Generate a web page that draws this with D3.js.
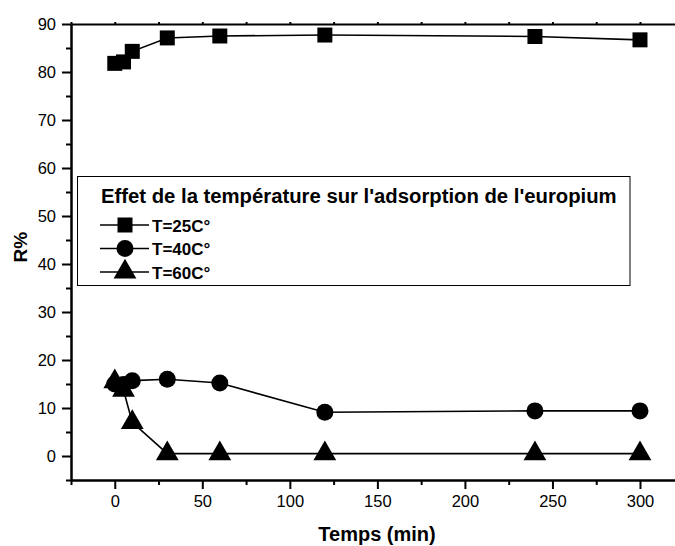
<!DOCTYPE html>
<html>
<head>
<meta charset="utf-8">
<script src="https://cdn.jsdelivr.net/npm/d3@7/dist/d3.min.js"></script>
<style>
  html, body { margin: 0; padding: 0; background: #fff; }
  svg { display: block; }
  text { font-family: "Liberation Sans", Arial, sans-serif; fill: #000; }
</style>
</head>
<body>
<svg id="chart" width="675" height="546"></svg>
<script>
// Adsorption yield R% over contact time, at three temperatures
const times = [0, 5, 10, 30, 60, 120, 240, 300];
const r25 = [81.8, 82.1, 84.3, 87.1, 87.5, 87.7, 87.4, 86.7];
const r40 = [15.0, 14.9, 15.7, 16.0, 15.2, 9.1, 9.4, 9.4];
const r60 = [15.5, 13.7, 7.0, 0.5, 0.5, 0.5, 0.5, 0.5];
const seriesNames = ["T=25C°", "T=40C°", "T=60C°"];
const legendTitle = "Effet de la température sur l'adsorption de l'europium";
const xTicks = [0, 50, 100, 150, 200, 250, 300];
const yTicks = [0, 10, 20, 30, 40, 50, 60, 70, 80, 90];
const xLabel = "Temps (min)";
const yLabel = "R%";

const svg = d3.select("#chart");
const plotL = 71, plotR = 675, plotT = 24, plotB = 480;

const x = d3.scaleLinear().domain([-25, 320]).range([plotL, plotR]);
const y = d3.scaleLinear().domain([-5, 90]).range([plotB, plotT]);

// Axes
const xMinor = d3.range(-25, 321, 25).filter(v => v % 50 !== 0);
const yMinor = d3.range(-5, 91, 10);

const gx = svg.append("g").attr("transform", `translate(0,${plotB})`);
gx.call(d3.axisBottom(x).tickValues(xTicks).tickSize(9).tickPadding(6).tickSizeOuter(0));
gx.append("g").call(d3.axisBottom(x).tickValues(xMinor).tickSize(5).tickFormat("").tickSizeOuter(0));

const gy = svg.append("g").attr("transform", `translate(${plotL},0)`);
gy.call(d3.axisLeft(y).tickValues(yTicks).tickSize(9).tickPadding(6).tickSizeOuter(0));
gy.append("g").call(d3.axisLeft(y).tickValues(yMinor).tickSize(5).tickFormat("").tickSizeOuter(0));

// Top frame line with small ticks
const gt = svg.append("g").attr("transform", `translate(0,${plotT})`);
gt.call(d3.axisTop(x).tickValues(d3.range(-25, 321, 25)).tickSize(2).tickFormat("").tickSizeOuter(0));

svg.selectAll(".domain").attr("stroke", "#000").attr("stroke-width", 2);
svg.selectAll(".tick line").attr("stroke", "#000").attr("stroke-width", 2);
svg.selectAll(".tick text").style("font-size", "16.5px").style("font-family", "'Liberation Sans', Arial, sans-serif").attr("fill", "#000");

// Axis titles
svg.append("text").attr("x", 377).attr("y", 541)
  .attr("text-anchor", "middle").style("font-size", "20px").style("font-weight", "bold")
  .text(xLabel);
svg.append("text").attr("transform", `translate(27,${y(43.5)}) rotate(-90)`)
  .attr("text-anchor", "middle").style("font-size", "19px").style("font-weight", "bold")
  .text(yLabel);

// Series
const series = [
  { vals: r25, sym: d3.symbolSquare, size: 225 },
  { vals: r40, sym: d3.symbolCircle, size: 227 },
  { vals: r60, sym: d3.symbolTriangle, size: 225 }
];
const line = d3.line().x(d => x(d[0])).y(d => y(d[1]));

series.forEach(s => {
  const pts = times.map((t, i) => [t, s.vals[i]]);
  svg.append("path").datum(pts).attr("d", line)
    .attr("fill", "none").attr("stroke", "#000").attr("stroke-width", 1.6);
  svg.append("g").selectAll("path").data(pts).join("path")
    .attr("transform", d => `translate(${x(d[0])},${y(d[1])})`)
    .attr("d", d3.symbol().type(s.sym).size(s.size)())
    .attr("fill", "#000");
});

// Legend
const lg = svg.append("g");
lg.append("rect").attr("x", 77.5).attr("y", 176.5).attr("width", 552.5).attr("height", 109)
  .attr("fill", "#fff").attr("stroke", "#000").attr("stroke-width", 1);
lg.append("text").attr("x", 101).attr("y", 202.5)
  .style("font-size", "20.3px").style("font-weight", "bold").text(legendTitle);
const rowY = [225, 248.5, 272];
series.forEach((s, i) => {
  const g = lg.append("g").attr("transform", `translate(0,${rowY[i]})`);
  g.append("line").attr("x1", 100).attr("x2", 149).attr("y1", 0).attr("y2", 0)
    .attr("stroke", "#000").attr("stroke-width", 1.6);
  g.append("path").attr("transform", "translate(125,0)")
    .attr("d", d3.symbol().type(s.sym).size(s.size)()).attr("fill", "#000");
  g.append("text").attr("x", 152).attr("y", 6.5)
    .style("font-size", "17px").style("font-weight", "bold").text(seriesNames[i]);
});
</script>
</body>
</html>
